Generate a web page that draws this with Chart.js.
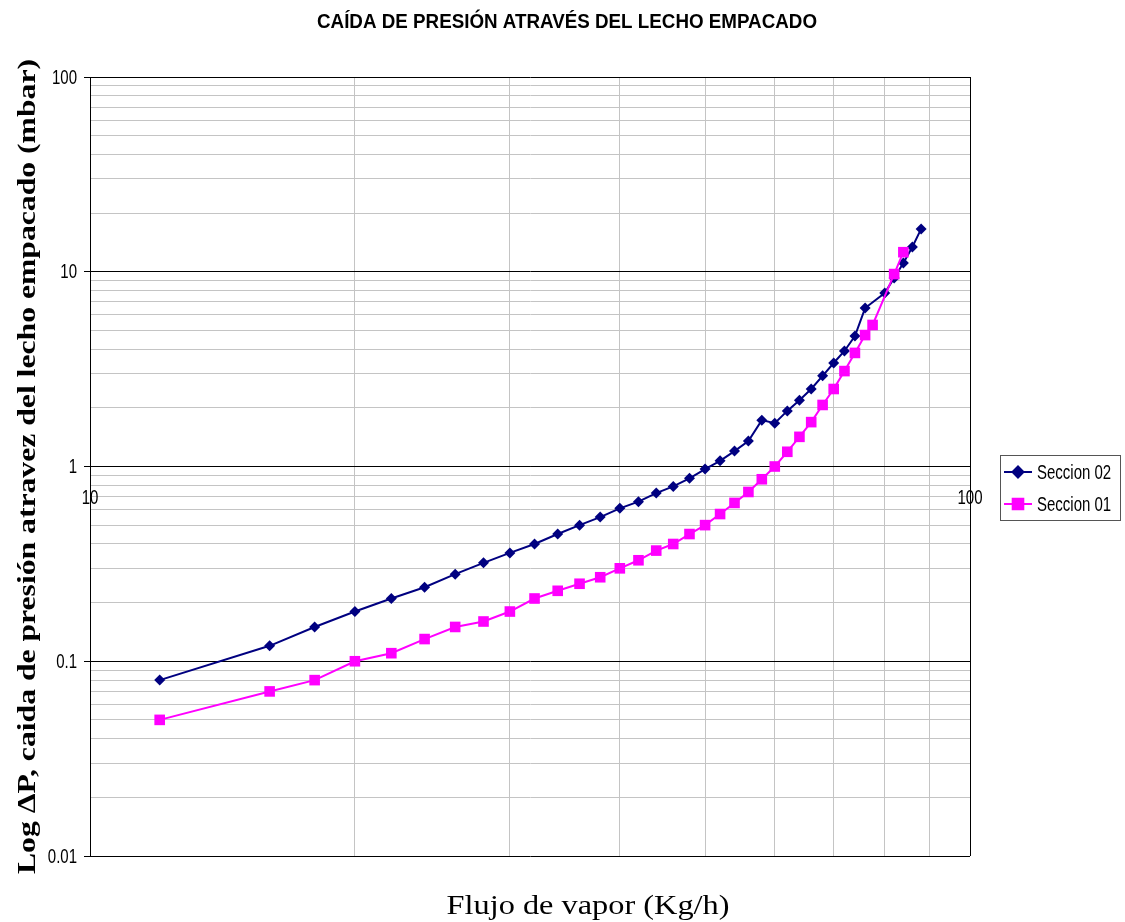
<!DOCTYPE html>
<html lang="es">
<head>
  <meta charset="UTF-8">
  <title>Caída de presión</title>
  <script src="https://cdn.jsdelivr.net/npm/chart.js"></script>
  <style>
    body { margin: 0; background: #fff; }
    #wrap { width: 1125px; height: 922px; }
  </style>
</head>
<body>
  <div id="wrap"><canvas id="grafico" width="1125" height="922"></canvas></div>

  <script>
    // datos
    const flujo02 = [12, 16, 18, 20, 22, 24, 26, 28, 30, 32, 34, 36, 38, 40, 42, 44, 46, 48, 50, 52,
                     54, 56, 58, 60, 62, 64, 66, 68, 70, 72, 74, 76, 80, 82, 84, 86, 88];
    const dp02 = [0.08, 0.12, 0.15, 0.18, 0.21, 0.24, 0.28, 0.32, 0.36, 0.40, 0.45, 0.50, 0.55, 0.61, 0.66, 0.73, 0.79, 0.87, 0.97, 1.07,
                  1.20, 1.35, 1.73, 1.67, 1.93, 2.19, 2.50, 2.92, 3.40, 3.92, 4.68, 6.51, 7.78, 9.29, 11.1, 13.4, 16.6];
    const flujo01 = [12, 16, 18, 20, 22, 24, 26, 28, 30, 32, 34, 36, 38, 40, 42, 44, 46, 48, 50, 52,
                     54, 56, 58, 60, 62, 64, 66, 68, 70, 72, 74, 76, 77.5, 82, 84];
    const dp01 = [0.05, 0.07, 0.08, 0.10, 0.11, 0.13, 0.15, 0.16, 0.18, 0.21, 0.23, 0.25, 0.27, 0.30, 0.33, 0.37, 0.40, 0.45, 0.50, 0.57,
                  0.65, 0.74, 0.86, 1.00, 1.19, 1.42, 1.69, 2.07, 2.50, 3.09, 3.83, 4.73, 5.33, 9.73, 12.6];

    const xTicks = [10, 20, 30, 40, 50, 60, 70, 80, 90, 100];
    const xLabels = [10, 100];
    const yMajor = [0.01, 0.1, 1, 10, 100];
    const yMinorMult = [2, 3, 4, 5, 6, 7, 8, 9];

    const titulo = 'CAÍDA DE PRESIÓN ATRAVÉS DEL LECHO EMPACADO';
    const tituloY = 'Log ΔP, caida de presión atravez del lecho empacado (mbar)';
    const tituloX = 'Flujo de vapor (Kg/h)';

    const yTicks = [];
    yMajor.forEach((d, i) => {
      yTicks.push(d);
      if (i < yMajor.length - 1) yMinorMult.forEach(m => yTicks.push(m * d));
    });
    const esMayor = v => yMajor.some(d => Math.abs(v - d) < d * 1e-6);

    const pares = (xs, ys) => xs.map((x, i) => ({ x, y: ys[i] }));

    const fuenteEtq = '20px "Liberation Sans", Arial, sans-serif';
    const angosto = 0.75; // la fuente original es tipo Arial Narrow

    // texto ajustado a un ancho dado
    function textoAjustado(ctx, txt, x, y, ancho, rot) {
      ctx.save();
      ctx.translate(x, y);
      if (rot) ctx.rotate(rot);
      const w = ctx.measureText(txt).width;
      ctx.scale(ancho / w, 1);
      ctx.fillText(txt, 0, 0);
      ctx.restore();
    }

    function textoAngosto(ctx, txt, x, y) {
      ctx.save();
      ctx.translate(x, y);
      ctx.scale(angosto, 1);
      ctx.fillText(txt, 0, 0);
      ctx.restore();
    }

    const textos = {
      id: 'textos',
      afterDraw(chart) {
        const { ctx, chartArea, scales } = chart;
        ctx.save();
        ctx.fillStyle = '#000';
        ctx.textAlign = 'center';
        ctx.textBaseline = 'middle';

        ctx.font = 'bold 21px "Liberation Sans", Arial, sans-serif';
        textoAjustado(ctx, titulo, 567, 22, 500);

        ctx.font = 'bold 26px "Liberation Serif", "Times New Roman", serif';
        textoAjustado(ctx, tituloY, 28, (chartArea.top + chartArea.bottom) / 2, 815, -Math.PI / 2);

        ctx.font = '28px "Liberation Serif", "Times New Roman", serif';
        textoAjustado(ctx, tituloX, 588, 907, 283);

        // etiquetas de los ejes
        ctx.font = fuenteEtq;
        ctx.textAlign = 'right';
        yMajor.forEach(v => {
          textoAngosto(ctx, String(v), chartArea.left - 13, scales.y.getPixelForValue(v) + 1);
        });
        ctx.textAlign = 'center';
        const yEje = scales.y.getPixelForValue(1);
        xLabels.forEach(v => {
          textoAngosto(ctx, String(v), scales.x.getPixelForValue(v), yEje + 32);
        });

        // leyenda
        const lx = 1000, ly = 455, lw = 120, lh = 65;
        ctx.strokeStyle = '#555';
        ctx.lineWidth = 1;
        ctx.strokeRect(lx + 0.5, ly + 0.5, lw, lh);
        const orden = [1, 0];
        ctx.textAlign = 'left';
        orden.forEach((di, k) => {
          const ds = chart.data.datasets[di];
          const cy = ly + 17 + k * 32;
          ctx.strokeStyle = ds.borderColor;
          ctx.lineWidth = 2;
          ctx.beginPath();
          ctx.moveTo(lx + 4, cy);
          ctx.lineTo(lx + 32, cy);
          ctx.stroke();
          Chart.helpers.drawPoint(ctx, {
            pointStyle: ds.pointStyle, radius: ds.pointRadius, rotation: 0, borderWidth: 1
          }, lx + 18, cy);
          ctx.fillStyle = ds.pointBackgroundColor;
          ctx.strokeStyle = ds.pointBorderColor;
          ctx.fill();
          ctx.fillStyle = '#000';
          ctx.font = fuenteEtq;
          textoAngosto(ctx, ds.label, lx + 37, cy + 1);
        });
        ctx.restore();
      }
    };

    new Chart(document.getElementById('grafico'), {
      type: 'scatter',
      data: {
        datasets: [
          {
            label: 'Seccion 01',
            data: pares(flujo01, dp01),
            showLine: true,
            borderColor: '#FF00FF',
            borderWidth: 2,
            pointStyle: 'rect',
            pointRadius: 7.5,
            pointBackgroundColor: '#FF00FF',
            pointBorderColor: '#FF00FF',
            pointBorderWidth: 0
          },
          {
            label: 'Seccion 02',
            data: pares(flujo02, dp02),
            showLine: true,
            borderColor: '#000080',
            borderWidth: 2,
            pointStyle: 'rectRot',
            pointRadius: 5.5,
            pointBackgroundColor: '#000080',
            pointBorderColor: '#000080',
            pointBorderWidth: 0
          }
        ]
      },
      options: {
        responsive: false,
        animation: false,
        devicePixelRatio: 1,
        layout: { padding: { top: 77, bottom: 66, left: 0, right: 155 } },
        plugins: {
          legend: { display: false },
          title: { display: false },
          tooltip: { enabled: false }
        },
        scales: {
          x: {
            type: 'logarithmic',
            min: 10,
            max: 100,
            position: { y: 1 },
            afterBuildTicks: s => { s.ticks = xTicks.map(v => ({ value: v })); },
            ticks: { autoSkip: false, maxRotation: 0, padding: 24, callback: () => '' },
            grid: {
              drawTicks: false,
              color: c => c.tick && c.tick.value === 100 ? '#000' : '#c4c4c4',
              lineWidth: 1
            },
            border: { display: true, color: '#000', width: 1 }
          },
          y: {
            type: 'logarithmic',
            min: 0.01,
            max: 100,
            afterFit: s => { s.width = 90; },
            afterBuildTicks: s => { s.ticks = yTicks.map(v => ({ value: v })); },
            ticks: { autoSkip: false, padding: 4, callback: () => '' },
            grid: {
              tickLength: 6,
              color: c => c.tick && esMayor(c.tick.value) ? '#000' : '#c4c4c4',
              tickColor: c => c.tick && esMayor(c.tick.value) ? '#000' : 'rgba(0,0,0,0)',
              lineWidth: 1
            },
            border: { display: true, color: '#000', width: 1 }
          }
        }
      },
      plugins: [textos]
    });
  </script>
</body>
</html>
